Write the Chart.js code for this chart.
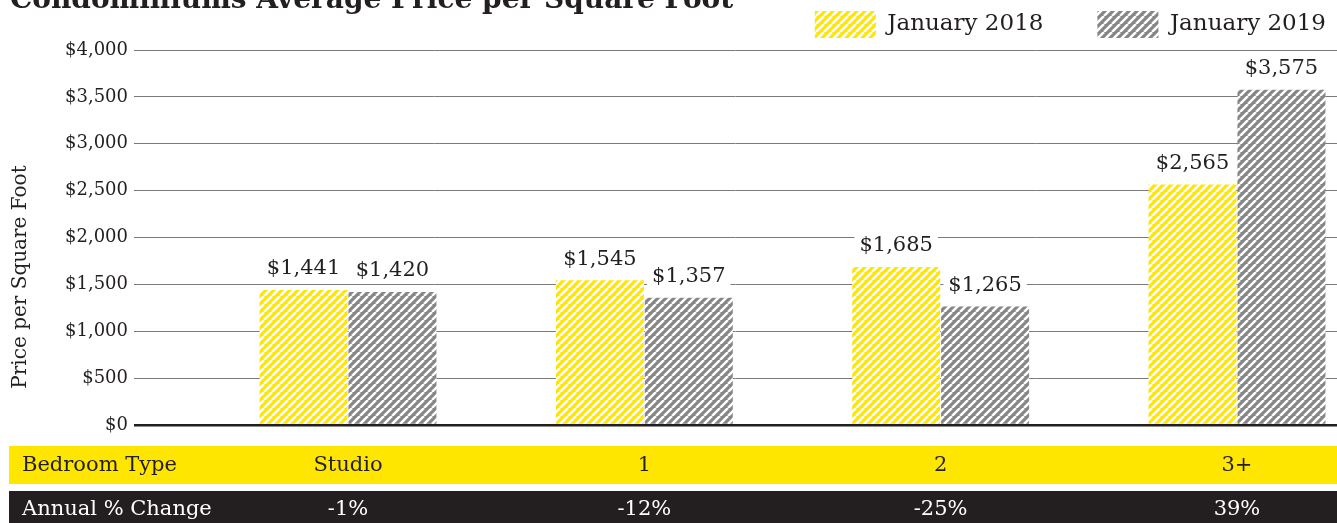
<!DOCTYPE html>
<html>
<head>
<meta charset="utf-8">
<script src="https://cdn.jsdelivr.net/npm/chart.js@4"></script>
<style>
  html, body { margin: 0; padding: 0; background: #fff; }
  canvas { display: block; }
</style>
</head>
<body>
<canvas id="myChart" width="1337" height="523"></canvas>
<script>
const ctx = document.getElementById('myChart');

const bedroomTypes = ['Studio', '1', '2', '3+'];
const jan2018 = [1441, 1545, 1685, 2565];
const jan2019 = [1420, 1357, 1265, 3575];
const annualChange = ['-1%', '-12%', '-25%', '39%'];
const yTicks = [0, 500, 1000, 1500, 2000, 2500, 3000, 3500, 4000];

const serif = "'DejaVu Serif', serif";
const ink = '#231f20';

// diagonal hatch fill like the original
function hatch(color) {
  const s = 8;
  const c = document.createElement('canvas');
  c.width = s; c.height = s;
  const g = c.getContext('2d');
  g.fillStyle = color;
  g.fillRect(0, 0, s, s);
  g.strokeStyle = '#fff';
  g.lineWidth = 2.5;
  g.beginPath();
  for (let k = -s; k <= s; k += s) {
    g.moveTo(k, s);
    g.lineTo(k + s, 0);
  }
  g.stroke();
  return g.createPattern(c, 'repeat');
}

const money = v => '$' + v.toLocaleString('en-US');

const extras = {
  id: 'extras',
  beforeLayout(chart) {
    // a little more room between legend and plot
    const lg = chart.legend;
    if (lg && !lg._tweaked) {
      const fit = lg.fit.bind(lg);
      lg.fit = function () { fit(); this.height += 2; };
      lg._tweaked = true;
    }
  },
  afterDatasetsDraw(chart) {
    const c = chart.ctx;
    c.save();
    c.font = '21px ' + serif;
    c.textAlign = 'center';
    c.textBaseline = 'middle';
    chart.data.datasets.forEach((ds, di) => {
      chart.getDatasetMeta(di).data.forEach((bar, i) => {
        const txt = money(ds.src[i]);
        const w = c.measureText(txt).width + 10;
        const cy = bar.y - 21;
        c.fillStyle = '#fff';
        c.fillRect(bar.x - w / 2, cy - 13, w, 26);
        c.fillStyle = ink;
        c.fillText(txt, bar.x, cy);
      });
    });
    c.restore();
  },
  afterDraw(chart) {
    const c = chart.ctx;
    const x = chart.scales.x;
    c.save();
    // title (runs off the top like the source)
    c.font = 'bold 28px ' + serif;
    c.fillStyle = ink;
    c.textBaseline = 'alphabetic';
    c.textAlign = 'left';
    c.fillText('Condominiums Average Price per Square Foot', 10, 8);

    // y axis title
    c.save();
    c.translate(21, 277);
    c.rotate(-Math.PI / 2);
    c.font = '20px ' + serif;
    c.textAlign = 'center';
    c.textBaseline = 'middle';
    c.fillText('Price per Square Foot', 0, 0);
    c.restore();

    // table rows
    c.fillStyle = '#ffe600';
    c.fillRect(9, 446, chart.width - 9, 38);
    c.fillStyle = ink;
    c.fillRect(9, 491, chart.width - 9, 32);

    c.font = '21px ' + serif;
    c.textBaseline = 'middle';
    c.textAlign = 'left';
    c.fillStyle = ink;
    c.fillText('Bedroom Type', 22, 466);
    c.fillStyle = '#fff';
    c.fillText('Annual % Change', 22, 510);
    c.textAlign = 'center';
    bedroomTypes.forEach((b, i) => {
      const px = x.getPixelForValue(i);
      c.fillStyle = ink;
      c.fillText(b, px, 466);
      c.fillStyle = '#fff';
      c.fillText(annualChange[i], px, 510);
    });
    c.restore();
  }
};

new Chart(ctx, {
  type: 'bar',
  data: {
    datasets: [{
      label: 'January 2018',
      src: jan2018,
      data: jan2018.map((v, i) => ({ x: i, y: v })),
      backgroundColor: hatch('#ffe600'),
      barPercentage: 0.99,
      categoryPercentage: 0.6
    }, {
      label: 'January 2019',
      src: jan2019,
      data: jan2019.map((v, i) => ({ x: i, y: v })),
      backgroundColor: hatch('#868686'),
      barPercentage: 0.99,
      categoryPercentage: 0.6
    }]
  },
  options: {
    responsive: false,
    animation: false,
    devicePixelRatio: 1,
    layout: { padding: { left: 59, right: -43, top: -43, bottom: 98 } },
    plugins: {
      legend: {
        position: 'top',
        align: 'end',
        labels: {
          boxWidth: 61,
          boxHeight: 27,
          padding: 54,
          color: ink,
          font: { family: serif, size: 23 }
        }
      },
      tooltip: { enabled: false }
    },
    scales: {
      x: {
        type: 'linear',
        display: false,
        offset: false,
        grid: { offset: false },
        min: -0.7222,
        max: 3.3375,
        afterBuildTicks: axis => { axis.ticks = bedroomTypes.map((b, i) => ({ value: i })); }
      },
      y: {
        min: 0,
        max: 4000,
        afterBuildTicks: axis => { axis.ticks = yTicks.map(v => ({ value: v })); },
        border: { display: false },
        grid: {
          drawTicks: false,
          color: c => c.tick && c.tick.value === 0 ? '#231f20' : '#7a7a7a',
          lineWidth: c => c.tick && c.tick.value === 0 ? 2.5 : 1
        },
        ticks: {
          padding: 6,
          color: ink,
          font: { family: serif, size: 18 },
          callback: v => money(v)
        }
      }
    }
  },
  plugins: [extras]
});
</script>
</body>
</html>
